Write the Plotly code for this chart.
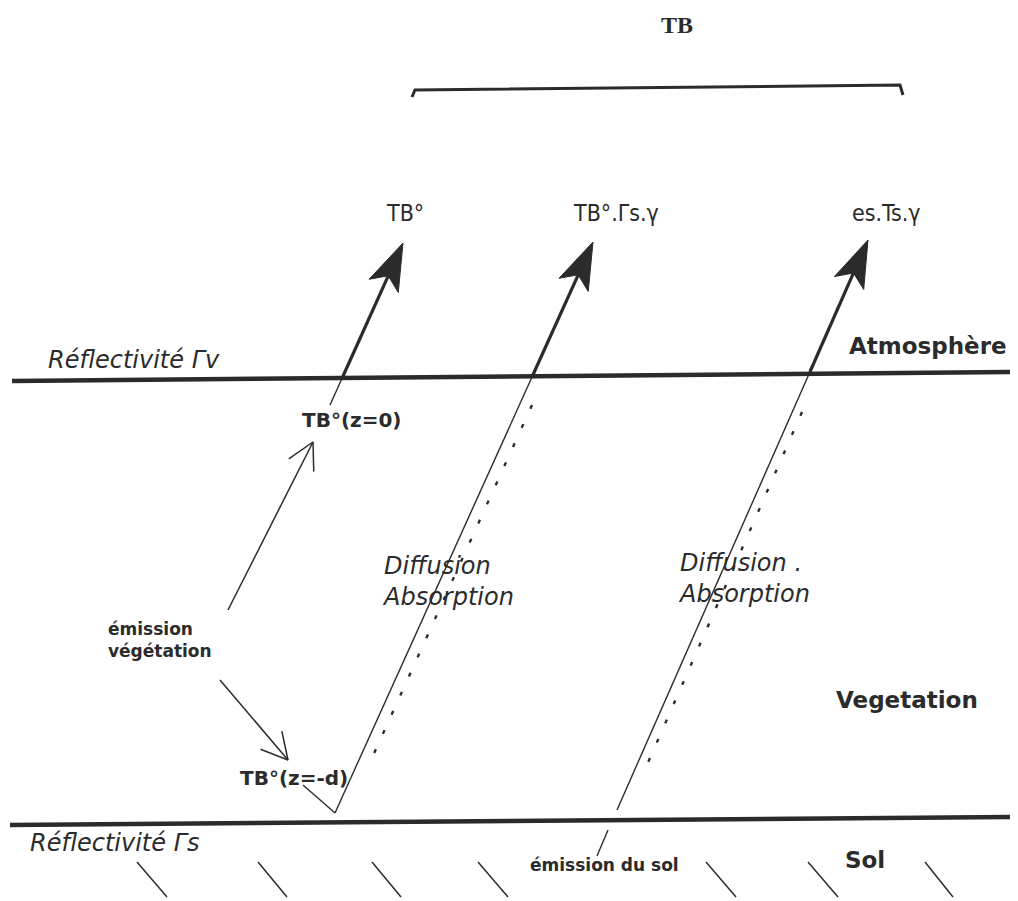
import numpy as np
import plotly.graph_objects as go

W, H = 1018, 901
PAGE_MARGIN = 8  # default body margin of the written page
INK = "#2b2b2b"

# boundaries (atmosphere / vegetation, vegetation / soil)
layer_x0 = [12, 10]
layer_y0 = [381, 825]
layer_x1 = [1016, 1012]
layer_y1 = [372, 817]

# the three upgoing rays: arrow tip, point where the thick part stops, lower end
ray_tip_x = [403, 593, 868]
ray_tip_y = [243, 242, 240]
ray_knee_y = [378, 377, 372]
ray_end_x = [330, 335, 617]
ray_end_y = [405, 813, 810]

# dotted companions of rays 2 and 3
dot_x0 = [532, 802]
dot_y0 = [405, 412]
dot_x1 = [371, 643]
dot_y1 = [760, 774]

# other thin strokes (reflection at the soil, soil emission below the line)
stroke_x0 = [303, 608]
stroke_y0 = [785, 830]
stroke_x1 = [335, 597]
stroke_y1 = [813, 856]

# thin "émission végétation" arrows (tail -> tip)
small_tail_x = [228, 220]
small_tail_y = [610, 680]
small_tip_x = [313, 288]
small_tip_y = [442, 760]

# soil hatching
hatch_x0 = [137, 258, 372, 478, 706, 808, 925]
hatch_x1 = [167, 287, 401, 508, 736, 838, 953]
hatch_y0 = 862
hatch_y1 = 897

# bracket over the three contributions
brace_x = [412, 415, 900, 903]
brace_y = [97, 90, 85, 95]

labels_top = ["TB°", "TB°.Γs.γ", "es.Ts.γ"]
labels_top_x = [405, 616, 886]
labels_top_y = [213, 213, 213]

bold_text = ["Atmosphère", "Vegetation", "Sol", "TB°(z=0)", "TB°(z=-d)"]
bold_x = [928, 907, 865, 351, 294]
bold_y = [346, 700, 860, 420, 778]
bold_size = [23, 23, 23, 20, 20]

small_bold = ["émission<br>végétation", "émission du sol"]
small_bold_x = [106, 528]
small_bold_y = [640, 865]

italic_text = ["Réflectivité Γv", "Réflectivité Γs", "Diffusion<br>Absorption",
               "Diffusion .<br>Absorption"]
italic_x = [46, 28, 380, 676]
italic_y = [360, 843, 581, 578]


def line(fig, xs, ys, width, dash=None):
    fig.add_trace(go.Scatter(x=xs, y=ys, mode="lines", hoverinfo="skip",
                             line=dict(color=INK, width=width, dash=dash)))


fig = go.Figure()

for i in range(len(layer_x0)):
    line(fig, [layer_x0[i], layer_x1[i]], [layer_y0[i], layer_y1[i]], 4.5)

line(fig, brace_x, brace_y, 3)

for i in range(len(ray_tip_x)):
    tx, ty, ex, ey = ray_tip_x[i], ray_tip_y[i], ray_end_x[i], ray_end_y[i]
    d = np.array([tx - ex, ty - ey], dtype=float)
    d /= np.hypot(*d)
    n = np.array([-d[1], d[0]])
    kx = tx + (ray_knee_y[i] - ty) * (ex - tx) / (ey - ty)
    tip = np.array([tx, ty], dtype=float)
    neck = tip - 36 * d
    line(fig, [neck[0], kx], [neck[1], ray_knee_y[i]], 3.2)
    line(fig, [kx, ex], [ray_knee_y[i], ey], 1.4)
    # filled notched head
    b1 = tip - 47 * d + 16 * n
    b2 = tip - 47 * d - 16 * n
    px = [tip[0], b1[0], neck[0], b2[0], tip[0]]
    py = [tip[1], b1[1], neck[1], b2[1], tip[1]]
    fig.add_trace(go.Scatter(x=px, y=py, mode="lines", fill="toself",
                             fillcolor=INK, hoverinfo="skip",
                             line=dict(color=INK, width=1)))

for i in range(len(dot_x0)):
    line(fig, [dot_x0[i], dot_x1[i]], [dot_y0[i], dot_y1[i]], 2.4, "4px,17px")

for i in range(len(stroke_x0)):
    line(fig, [stroke_x0[i], stroke_x1[i]], [stroke_y0[i], stroke_y1[i]], 1.4)

for i in range(len(small_tip_x)):
    tip = np.array([small_tip_x[i], small_tip_y[i]], dtype=float)
    d = tip - np.array([small_tail_x[i], small_tail_y[i]])
    d /= np.hypot(*d)
    n = np.array([-d[1], d[0]])
    line(fig, [small_tail_x[i], tip[0]], [small_tail_y[i], tip[1]], 1.5)
    b1 = tip - 26 * d + 14 * n
    b2 = tip - 26 * d - 14 * n
    line(fig, [b1[0], tip[0], b2[0]], [b1[1], tip[1], b2[1]], 1.5)

for i in range(len(hatch_x0)):
    line(fig, [hatch_x0[i], hatch_x1[i]], [hatch_y0, hatch_y1], 1.5)

ann = []
ann.append(dict(text="<b>TB</b>", x=677, y=25, xanchor="center", yanchor="middle",
                font=dict(family="Liberation Serif", size=24, color=INK)))
for t, x, y in zip(labels_top, labels_top_x, labels_top_y):
    ann.append(dict(text=t, x=x, y=y, xanchor="center", yanchor="middle",
                    font=dict(family="Liberation Sans Narrow, DejaVu Sans Condensed",
                              size=23, color=INK)))
for t, x, y, s in zip(bold_text, bold_x, bold_y, bold_size):
    ann.append(dict(text="<b>%s</b>" % t, x=x, y=y, xanchor="center", yanchor="middle",
                    font=dict(family="DejaVu Sans", size=s, color=INK)))
for t, x, y in zip(small_bold, small_bold_x, small_bold_y):
    ann.append(dict(text="<b>%s</b>" % t, x=x, y=y, xanchor="left", yanchor="middle",
                    align="left",
                    font=dict(family="DejaVu Sans", size=17, color=INK)))
for t, x, y in zip(italic_text, italic_x, italic_y):
    ann.append(dict(text="<i>%s</i>" % t, x=x, y=y, xanchor="left", yanchor="middle",
                    align="left",
                    font=dict(family="DejaVu Sans", size=24, color=INK)))
for a in ann:
    a.update(xref="x", yref="y", showarrow=False)

fig.update_layout(
    width=W, height=H,
    margin=dict(l=0, r=0, t=0, b=0),
    paper_bgcolor="white", plot_bgcolor="white",
    showlegend=False,
    annotations=ann,
    xaxis=dict(range=[PAGE_MARGIN, W + PAGE_MARGIN], visible=False, fixedrange=True),
    yaxis=dict(range=[H + PAGE_MARGIN, PAGE_MARGIN], visible=False, fixedrange=True),
)

fig.write_html("out.html")
